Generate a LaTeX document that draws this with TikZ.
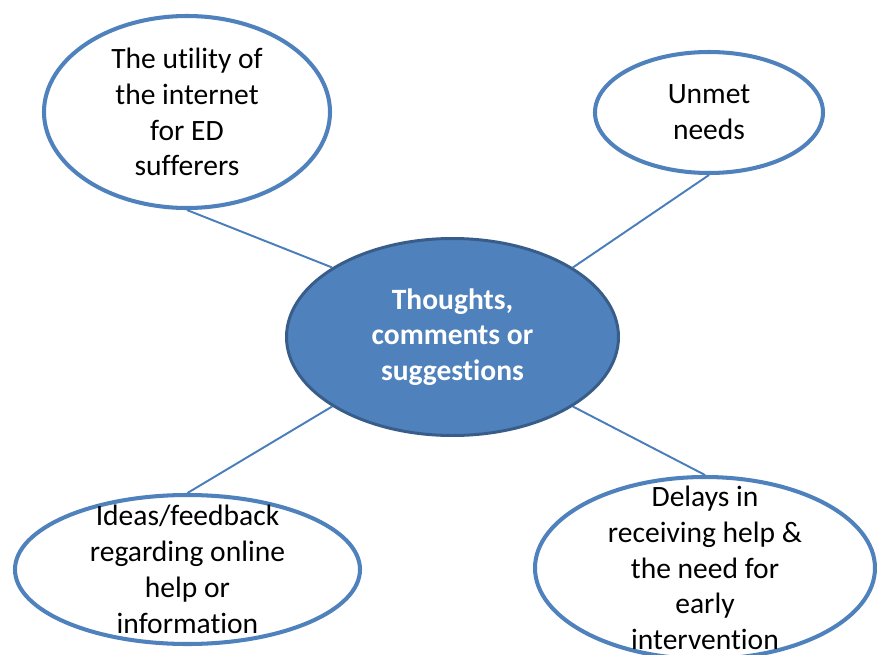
\documentclass[tikz,border=0pt]{standalone}
\usepackage{fontspec}
\setmainfont[Ligatures=NoCommon]{Carlito}
\definecolor{rimblue}{RGB}{79,129,189}
\definecolor{hubfill}{RGB}{79,129,189}
\definecolor{hubrim}{RGB}{56,93,138}
\definecolor{linkblue}{RGB}{74,126,187}
\usetikzlibrary{shapes.geometric}
\tikzset{
  bubble/.style={draw=rimblue, line width=2.3pt, ellipse, fill=white, inner sep=0pt},
  hubnode/.style={draw=hubrim, line width=1.7pt, ellipse, fill=hubfill, inner sep=0pt},
  bubbletext/.style={align=center, font=\fontsize{16.8}{20.4}\selectfont, inner sep=0pt},
  hubtext/.style={align=center, text=white, font=\fontsize{16.8}{20.4}\selectfont\bfseries, inner sep=0pt},
  link/.style={draw=linkblue, line width=1.1pt}
}
\begin{document}
\begin{tikzpicture}
\useasboundingbox (0,0) rectangle (17.54,-13.10);
\node[hubnode, minimum width=6.64cm, minimum height=3.94cm] (hub) at (9.05,-6.74) {};
\node[hubtext] (hub-t) at (hub) {Thoughts,\\comments or\\suggestions};
\node[bubble, minimum width=5.72cm, minimum height=3.84cm] (utility) at (3.74,-2.24) {};
\node[bubbletext] (utility-t) at (utility) {The utility of\\the internet\\for ED\\sufferers};
\node[bubble, minimum width=4.56cm, minimum height=2.42cm] (unmet) at (14.18,-2.25) {};
\node[bubbletext] (unmet-t) at (unmet) {Unmet\\needs};
\node[bubble, minimum width=6.90cm, minimum height=2.98cm] (ideas) at (3.75,-11.39) {};
\node[bubbletext] (ideas-t) at (ideas) {Ideas/feedback\\regarding online\\help or\\information};
\node[bubble, minimum width=6.80cm, minimum height=3.64cm] (delays) at (14.10,-11.36) {};
\node[bubbletext] (delays-t) at (delays) {Delays in\\receiving help \&\\the need for\\early\\intervention};
\draw[link] (utility.south) -- (hub.150);
\draw[link] (unmet.south) -- (hub.30);
\draw[link] (ideas.north) -- (hub.210);
\draw[link] (delays.north) -- (hub.330);
\end{tikzpicture}
\end{document}
